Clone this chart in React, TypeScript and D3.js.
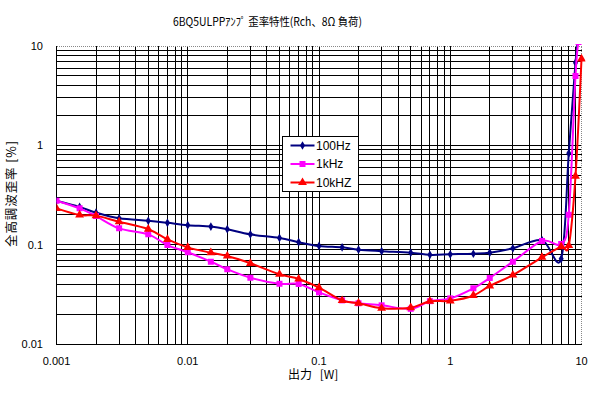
import React, { useEffect, useRef } from 'react'
import * as d3 from 'd3'

// output power [W] and THD [%]
const powerW = [0.001, 0.0015, 0.002, 0.003, 0.005, 0.007, 0.01, 0.015, 0.02, 0.03, 0.05, 0.07,
  0.1, 0.15, 0.2, 0.3, 0.5, 0.7, 1, 1.5, 2, 3, 5, 7, 8, 9, 9.5]
const powerW10k = [0.001, 0.0015, 0.002, 0.003, 0.005, 0.007, 0.01, 0.015, 0.02, 0.03, 0.05, 0.07,
  0.1, 0.15, 0.2, 0.3, 0.5, 0.7, 1, 1.5, 2, 3, 5, 7, 8, 9, 10]

const thd100Hz = [0.277, 0.24, 0.21, 0.184, 0.174, 0.166, 0.157, 0.152, 0.143, 0.127, 0.117, 0.106,
  0.097, 0.094, 0.089, 0.086, 0.083, 0.079, 0.08, 0.081, 0.083, 0.092, 0.111, 0.072, 0.83, 6.8, 12]
const thd1kHz = [0.277, 0.232, 0.194, 0.146, 0.127, 0.099, 0.0838, 0.0674, 0.0565, 0.0465, 0.0404, 0.0402,
  0.0331, 0.0275, 0.0257, 0.0245, 0.0226, 0.027, 0.0288, 0.0364, 0.0462, 0.0674, 0.109, 0.1016, 0.2, 5.0, 11]
const thd10kHz = [0.232, 0.199, 0.196, 0.17, 0.143, 0.113, 0.094, 0.083, 0.0769, 0.0649, 0.0503, 0.0451,
  0.0369, 0.0274, 0.0258, 0.0229, 0.0232, 0.0269, 0.0272, 0.0308, 0.0384, 0.0495, 0.0746, 0.0955, 0.098, 0.49, 7.4]

const seriesNames = ['100Hz', '1kHz', '10kHZ']
const xTickLabels = ['0.001', '0.01', '0.1', '1', '10']
const yTickLabels = ['0.01', '0.1', '1', '10']

const title = '6BQ5ULPPｱﾝﾌﾟ 歪率特性(Rch、8Ω 負荷)'
const xTitle = ['出力', '[W]']
const yTitle = '全高調波歪率 [%]'

export default function App() {
  const ref = useRef<SVGSVGElement>(null)

  useEffect(() => {
    const width = 616
    const height = 394
    const left = 56.5, right = 581.5, top = 46, bottom = 344
    const font = "'Liberation Sans', Arial, sans-serif"
    const cjk = "'Noto Sans CJK JP', sans-serif"

    const x = d3.scaleLog().domain([0.001, 10]).range([left, right])
    const y = d3.scaleLog().domain([0.01, 10]).range([bottom, top])

    const svg = d3.select(ref.current)
    svg.selectAll('*').remove()
    svg.attr('viewBox', [0, 0, width, height]).attr('width', width).attr('height', height)

    svg.append('rect').attr('width', width).attr('height', height).attr('fill', '#fff')

    // grid: every 1..9 of each decade
    const minors = (lo: number, hi: number) => {
      const out: number[] = []
      for (let d = lo; d < hi - 1e-12; d *= 10) {
        for (let k = 1; k <= 9; k++) out.push(d * k)
      }
      return out
    }
    const grid = svg.append('g').attr('stroke', '#000').attr('stroke-width', 1).attr('shape-rendering', 'crispEdges')
    minors(0.001, 10).filter(v => v > 0.001).forEach(v => {
      grid.append('line').attr('x1', x(v)).attr('x2', x(v)).attr('y1', top).attr('y2', bottom)
    })
    minors(0.01, 10).filter(v => v > 0.01).forEach(v => {
      grid.append('line').attr('y1', y(v)).attr('y2', y(v)).attr('x1', left).attr('x2', right)
    })

    // frame: dotted grey top/right, black axes left/bottom
    svg.append('path')
      .attr('d', `M${left},${top}H${right}V${bottom}`)
      .attr('fill', 'none').attr('stroke', '#888').attr('stroke-dasharray', '1,1')
      .attr('shape-rendering', 'crispEdges')
    svg.append('path')
      .attr('d', `M${left},${top}V${bottom}H${right}`)
      .attr('fill', 'none').attr('stroke', '#000')
      .attr('shape-rendering', 'crispEdges')

    // tick labels
    xTickLabels.forEach(t => {
      svg.append('text').attr('x', x(+t)).attr('y', 364.5).attr('text-anchor', 'middle')
        .attr('font-family', font).attr('font-size', 11).text(t)
    })
    yTickLabels.forEach(t => {
      svg.append('text').attr('x', 43).attr('y', y(+t)).attr('dy', '0.36em').attr('text-anchor', 'end')
        .attr('font-family', font).attr('font-size', 11).text(t)
    })

    // titles
    svg.append('text').attr('x', 173).attr('y', 26)
      .attr('textLength', 189).attr('lengthAdjust', 'spacingAndGlyphs')
      .attr('font-family', cjk).attr('font-size', 11.5).text(title)
    const xt = svg.append('text').attr('y', 379).attr('font-family', cjk).attr('font-size', 12)
    xt.append('tspan').attr('x', 288).text(xTitle[0])
    xt.append('tspan').attr('x', 317).text(' ' + xTitle[1])
    svg.append('text').attr('transform', 'translate(16,247) rotate(-90)')
      .attr('textLength', 106).attr('lengthAdjust', 'spacing')
      .attr('font-family', cjk).attr('font-size', 12.5).text(yTitle)

    // series
    svg.append('clipPath').attr('id', 'plot-clip')
      .append('rect').attr('x', left).attr('y', top - 2).attr('width', right - left + 4).attr('height', bottom - top + 2)

    const series = [
      { name: seriesNames[0], xs: powerW, ys: thd100Hz, color: '#000080', symbol: d3.symbolDiamond, size: 22 },
      { name: seriesNames[1], xs: powerW, ys: thd1kHz, color: '#ff00ff', symbol: d3.symbolSquare, size: 36 },
      { name: seriesNames[2], xs: powerW10k, ys: thd10kHz, color: '#ff0000', symbol: d3.symbolTriangle, size: 34 },
    ]

    const line = d3.line<[number, number]>()
      .x(d => x(d[0]))
      .y(d => y(d[1]))
      .curve(d3.curveCatmullRom.alpha(0))

    const plot = svg.append('g').attr('clip-path', 'url(#plot-clip)')
    series.forEach(s => {
      const pts = s.xs.map((v, i) => [v, s.ys[i]] as [number, number])
      plot.append('path').datum(pts)
        .attr('fill', 'none').attr('stroke', s.color).attr('stroke-width', 2)
        .attr('stroke-linejoin', 'round')
        .attr('d', line)
      plot.selectAll(null).data(pts).enter().append('path')
        .attr('transform', d => `translate(${x(d[0])},${y(d[1])})`)
        .attr('d', d3.symbol().type(s.symbol).size(s.size)())
        .attr('fill', s.color)
    })

    // legend
    const lg = svg.append('g')
    lg.append('rect').attr('x', 282.5).attr('y', 136.5).attr('width', 75.5).attr('height', 55)
      .attr('fill', '#fff').attr('stroke', '#000').attr('shape-rendering', 'crispEdges')
    const rowY = [145.5, 164, 182.5]
    series.forEach((s, i) => {
      lg.append('line').attr('x1', 290.5).attr('x2', 314.5).attr('y1', rowY[i]).attr('y2', rowY[i])
        .attr('stroke', s.color).attr('stroke-width', 2)
      lg.append('path').attr('transform', `translate(302.5,${rowY[i]})`)
        .attr('d', d3.symbol().type(s.symbol).size(s.size)()).attr('fill', s.color)
      lg.append('text').attr('x', 316).attr('y', rowY[i]).attr('dy', '0.36em')
        .attr('font-family', font).attr('font-size', 12).text(s.name)
    })
  }, [])

  return <svg ref={ref} style={{ position: 'absolute', left: 0, top: 0 }} />
}
